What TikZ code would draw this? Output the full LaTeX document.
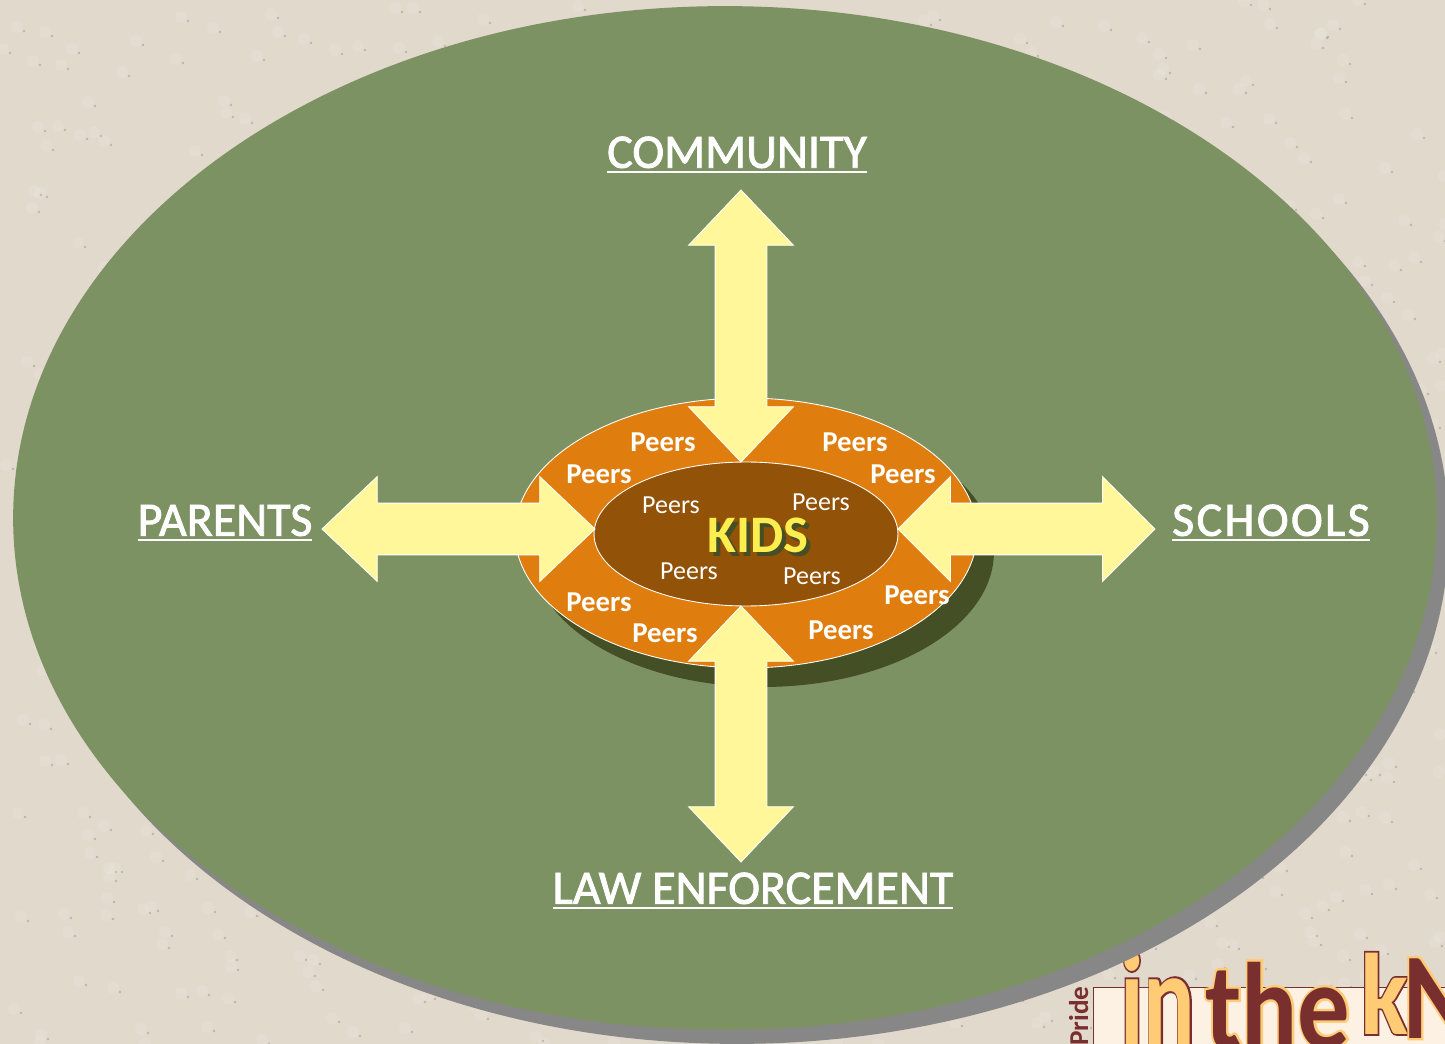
\documentclass[tikz,border=0pt]{standalone}
\usepackage{fontspec}
\setmainfont{Carlito}
\newfontfamily\logofont[BoldFeatures={FakeBold=3}]{Carlito}
\newfontfamily\haloface[BoldFeatures={FakeBold=4}]{Carlito}
\newfontfamily\labelface[FakeBold=1.8]{Carlito}
\definecolor{paper}{RGB}{225, 217, 204}
\definecolor{field}{RGB}{125, 146, 99}
\definecolor{fieldshade}{RGB}{135, 135, 135}
\definecolor{ring}{RGB}{223, 126, 14}
\definecolor{ringshade}{RGB}{69, 79, 38}
\definecolor{core}{RGB}{146, 82, 8}
\definecolor{pale}{RGB}{255, 247, 154}
\definecolor{kidsyellow}{RGB}{253, 238, 80}
\definecolor{maroon}{RGB}{122, 47, 47}
\definecolor{logogold}{RGB}{255, 203, 116}
\definecolor{logocream}{RGB}{253, 241, 227}
\usetikzlibrary{shapes.geometric, shapes.arrows, shadows}
\newcommand{\ruled}[1]{\setbox0\hbox{#1}\copy0\llap{\rule[-3.2pt]{\wd0}{1.4pt}}}
\tikzset{
    oval/.style={ellipse, inner sep=0pt, draw=white, line width=0.5pt},
    bigarrow/.style={double arrow, double arrow head extend=0.53cm, double arrow tip angle=87, minimum width=2.08cm, inner xsep=0pt, inner ysep=0.51cm, fill=pale, draw=white, line width=0.5pt},
    force/.style={text=white, inner sep=0pt, font=\fontsize{27.3}{30}\labelface\selectfont},
    peerbold/.style={text=white, inner sep=0pt, font=\fontsize{16.4}{18}\selectfont\bfseries},
    peerthin/.style={text=white, inner sep=0pt, font=\fontsize{14.8}{16}\selectfont},
    logoback/.style={inner sep=0pt, anchor=base west, xscale=0.72, transform shape, text=maroon, font=\fontsize{76}{80}\logofont\bfseries\selectfont},
    logofront/.style={inner sep=0pt, anchor=base west, xscale=0.72, transform shape, text=logogold, font=\fontsize{76}{80}\selectfont\bfseries},
    kback/.style={logoback, xscale=1.2, font=\fontsize{66}{70}\logofont\bfseries\selectfont},
    kfront/.style={logofront, xscale=1.2, font=\fontsize{66}{70}\selectfont\bfseries},
    logohalo/.style={inner sep=0pt, anchor=base west, xscale=0.85, transform shape, text=logogold, font=\fontsize{70}{80}\haloface\bfseries\selectfont},
    logomaroon/.style={inner sep=0pt, anchor=base west, xscale=0.85, transform shape, text=maroon, font=\fontsize{70}{80}\selectfont\bfseries}
}
\begin{document}
\begin{tikzpicture}[x=0.02cm, y=-0.02cm]
    \useasboundingbox (0,0) rectangle (1445,1044);
    \clip (0,0) rectangle (1445,1044);
    \fill[paper] (0,0) rectangle (1445,1044);

    % Paper grain
    \pgfmathsetseed{11}
    \foreach \i in {1,...,900} {
        \pgfmathsetmacro{\dotx}{random(0,1445)}
        \pgfmathsetmacro{\doty}{random(0,1044)}
        \fill[white, opacity=0.1] (\dotx,\doty) circle (6);
        \fill[black, opacity=0.16] (\dotx+7,\doty+4) circle (1.4);
    }

    % Logo
    \node[draw=maroon, fill=logocream, minimum width=7.4cm, minimum height=2cm, anchor=north west, inner sep=0pt] (logobox) at (1093,987) {};
    \node[text=maroon, rotate=90, anchor=base west, inner sep=0pt, font=\fontsize{15.5}{17}\selectfont\bfseries] (pride) at (1088,1046) {Pride};
    \node[logoback] (inback) at (1120,1044) {in};
    \node[logofront] (infront) at (1120,1044) {in};
    \node[logohalo] (thehalo) at (1205,1048) {the};
    \node[logomaroon] (the) at (1205,1048) {the};
    \node[kback] (kback) at (1360,1034) {k};
    \node[kfront] (kfront) at (1360,1034) {k};
    \node[logohalo] (bighalo) at (1403,1038) {N};
    \node[logomaroon] (bigN) at (1403,1038) {N};

    % Ovals
    \node[ellipse, inner sep=0pt, fill=field, minimum width=28.48cm, minimum height=20.48cm,
        drop shadow={shadow xshift=0.24cm, shadow yshift=-0.28cm, fill=fieldshade, opacity=1}] (field) at (725,518) {};
    \node[oval, fill=ring, minimum width=9.24cm, minimum height=5.4cm,
        drop shadow={shadow xshift=0.34cm, shadow yshift=-0.38cm, fill=ringshade, opacity=1}] (peerring) at (746,533) {};
    \node[oval, fill=core, minimum width=6.08cm, minimum height=2.88cm] (kidscore) at (746,534) {};

    % Arrows
    \node[bigarrow, rotate=90, minimum height=5.44cm] (toparrow) at (741,326) {};
    \node[bigarrow, rotate=90, minimum height=5.12cm] (bottomarrow) at (741,734) {};
    \node[bigarrow, minimum height=5.46cm] (leftarrow) at (458.5,529) {};
    \node[bigarrow, double arrow tip angle=90, minimum height=5.14cm] (rightarrow) at (1026.5,529) {};

    % Labels
    \node[force] (community) at (737,155) {\ruled{COMMUNITY}};
    \node[force] (law) at (753,891) {\ruled{LAW ENFORCEMENT}};
    \node[force] (parents) at (225,523) {\ruled{PARENTS}};
    \node[force] (schools) at (1271,523) {\addfontfeature{LetterSpace=5}\ruled{SCHOOLS}};

    % Peers
    \foreach \i/\px/\py in {1/663/442, 2/599/474, 3/855/442, 4/903/474, 5/599/602, 6/665/633, 7/917/595, 8/841/630}
        \node[peerbold] (peerout\i) at (\px,\py) {Peers};
    \foreach \i/\px/\py in {1/671/505, 2/821/502, 3/689/571, 4/812/576}
        \node[peerthin] (peerin\i) at (\px,\py) {Peers};

    % Kids
    \node[inner sep=0pt, text=ringshade, font=\fontsize{30}{34}\selectfont\bfseries] (kidsshadow) at (762,539) {KIDS};
    \node[inner sep=0pt, text=kidsyellow, font=\fontsize{30}{34}\selectfont\bfseries] (kids) at (758,535) {KIDS};
\end{tikzpicture}
\end{document}
